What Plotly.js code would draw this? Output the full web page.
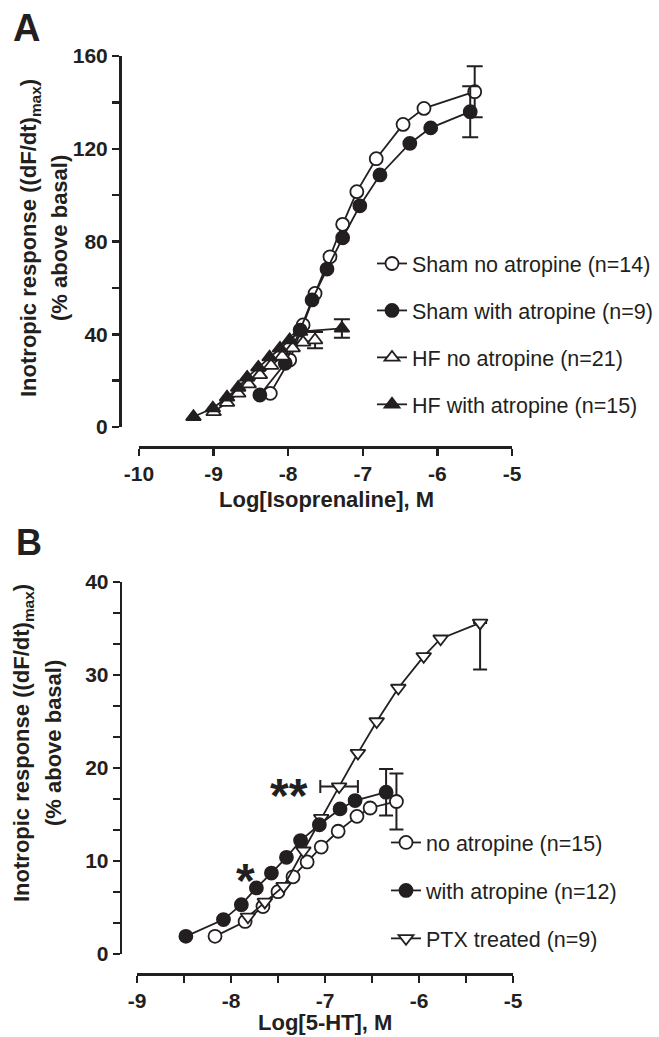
<!DOCTYPE html>
<html>
<head>
<meta charset="utf-8">
<script src="https://cdn.plot.ly/plotly-3.0.1.min.js"></script>
<style>html,body{margin:0;padding:0;background:#fff;}#chart{width:659px;height:1037px;}</style>
</head>
<body>
<div id="chart"></div>
<script>
// ---------- Panel A data (Log[Isoprenaline], M vs % above basal) ----------
const shamNoX   = [-8.24, -7.98, -7.80, -7.64, -7.44, -7.27, -7.08, -6.82, -6.46, -6.18, -5.50];
const shamNoY   = [14.5, 28.9, 44.0, 57.6, 73.4, 87.4, 101.5, 115.7, 130.5, 137.4, 144.6];
const shamNoErr = [NaN, NaN, NaN, NaN, NaN, NaN, NaN, NaN, NaN, NaN, 11];

const shamAtX   = [-8.38, -8.04, -7.84, -7.68, -7.48, -7.27, -7.04, -6.77, -6.37, -6.09, -5.56];
const shamAtY   = [13.8, 27.5, 41.8, 54.8, 68.1, 81.6, 95.4, 108.7, 122.3, 129.0, 136.0];
const shamAtErr = [NaN, NaN, NaN, NaN, NaN, NaN, NaN, NaN, NaN, NaN, 11];

const hfNoX   = [-9.00, -8.82, -8.67, -8.53, -8.38, -8.23, -8.08, -7.94, -7.80, -7.64];
const hfNoY   = [6.5, 10.5, 14.5, 18.5, 22.5, 26.5, 30.5, 34.0, 36.5, 37.5];
const hfNoErr = [NaN, NaN, NaN, NaN, NaN, NaN, NaN, NaN, NaN, 3.5];

const hfAtX   = [-9.27, -9.01, -8.82, -8.67, -8.55, -8.40, -8.25, -8.11, -7.98, -7.84, -7.28];
const hfAtY   = [4.4, 8.1, 12.8, 17.0, 21.4, 25.7, 30.1, 33.9, 37.5, 41.1, 42.5];
const hfAtErr = [NaN, NaN, NaN, NaN, NaN, NaN, NaN, NaN, NaN, NaN, 4];

const namesA = ['Sham no atropine (n=14)', 'Sham with atropine (n=9)', 'HF no atropine (n=21)', 'HF with atropine (n=15)'];
const xTicksA = [-10, -9, -8, -7, -6, -5];
const xTickTextA = ['-10', '-9', '-8', '-7', '-6', '-5'];
const yTicksA = [0, 40, 80, 120, 160];

// ---------- Panel B data (Log[5-HT], M vs % above basal) ----------
const noAtrX   = [-8.17, -7.85, -7.66, -7.50, -7.34, -7.19, -7.04, -6.86, -6.66, -6.52, -6.24];
const noAtrY   = [1.9, 3.5, 5.1, 6.7, 8.3, 9.9, 11.5, 13.2, 14.8, 15.7, 16.4];
const noAtrErr = [NaN, NaN, NaN, NaN, NaN, NaN, NaN, NaN, NaN, NaN, 3.0];

const withAtrX   = [-8.48, -8.08, -7.89, -7.73, -7.57, -7.41, -7.26, -7.06, -6.84, -6.68, -6.35];
const withAtrY   = [1.9, 3.7, 5.3, 7.1, 8.7, 10.4, 12.2, 13.9, 15.6, 16.5, 17.4];
const withAtrErr = [NaN, NaN, NaN, NaN, NaN, NaN, NaN, NaN, NaN, NaN, 2.5];

const ptxX       = [-7.82, -7.64, -7.44, -7.23, -7.04, -6.85, -6.65, -6.45, -6.22, -5.95, -5.77, -5.35];
const ptxY       = [4.0, 5.6, 7.3, 11.1, 14.6, 18.0, 21.6, 25.0, 28.6, 32.0, 33.9, 35.6];
const ptxErrUp   = [NaN, NaN, NaN, NaN, NaN, NaN, NaN, NaN, NaN, NaN, NaN, 0];
const ptxErrDown = [NaN, NaN, NaN, NaN, NaN, NaN, NaN, NaN, NaN, NaN, NaN, 5.0];
const ptxErrX    = [NaN, NaN, NaN, NaN, NaN, 0.2, NaN, NaN, NaN, NaN, NaN, NaN];

const namesB = ['no atropine (n=15)', 'with atropine (n=12)', 'PTX treated (n=9)'];
const xTicksB = [-9, -8, -7, -6, -5];
const xTickTextB = ['-9', '-8', '-7', '-6', '-5'];
const yTicksB = [0, 10, 20, 30, 40];

// ---------- styling ----------
const W = 659, H = 1037;
const INK = '#231f20';
const FONT = 'Liberation Sans, Arial, Helvetica, sans-serif';
const px = p => p / W;
const py = p => 1 - p / H;

function series(x, y, name, symbol, filled, xa, ya, leg, grp, rank, err, extra) {
  const t = {
    type: 'scatter', mode: 'lines+markers', x: x, y: y, name: name,
    xaxis: xa, yaxis: ya, legend: leg, legendgroup: grp, legendrank: rank,
    cliponaxis: false,
    line: {color: INK, width: 1.8},
    marker: {symbol: symbol, size: 13, color: filled ? INK : '#ffffff', line: {color: INK, width: 1.8}},
  };
  if (err) t.error_y = err;
  if (extra) Object.assign(t, extra);
  return t;
}
const eb = (arr, w) => ({type: 'data', array: arr, visible: true, color: INK, thickness: 2, width: w});

const traces = [
  series(shamNoX, shamNoY, namesA[0], 'circle', false, 'x', 'y', 'legend', 'a1', 1, eb(shamNoErr, 8)),
  series(shamAtX, shamAtY, namesA[1], 'circle', true, 'x', 'y', 'legend', 'a2', 2, eb(shamAtErr, 8)),
  series(hfNoX, hfNoY, namesA[2], 'triangle-up', false, 'x', 'y', 'legend', 'a3', 3, eb(hfNoErr, 8)),
  series(hfAtX, hfAtY, namesA[3], 'triangle-up', true, 'x', 'y', 'legend', 'a4', 4, eb(hfAtErr, 8)),
  series(noAtrX, noAtrY, namesB[0], 'circle', false, 'x2', 'y2', 'legend2', 'b1', 1, eb(noAtrErr, 7)),
  series(ptxX, ptxY, namesB[2], 'triangle-down', false, 'x2', 'y2', 'legend2', 'b3', 3,
    {type: 'data', symmetric: false, array: ptxErrUp, arrayminus: ptxErrDown, visible: true, color: INK, thickness: 2, width: 7},
    {error_x: {type: 'data', array: ptxErrX, visible: true, color: INK, thickness: 2, width: 6.5}}),
  series(withAtrX, withAtrY, namesB[1], 'circle', true, 'x2', 'y2', 'legend2', 'b2', 2, eb(withAtrErr, 7)),
];

const tickFont = {family: FONT, size: 21, color: INK, weight: 'bold'};
const axisBase = {
  showline: true, linecolor: INK, linewidth: 2.5, ticks: 'outside', ticklen: 7,
  tickwidth: 2.5, tickcolor: INK, showgrid: false, zeroline: false, tickfont: tickFont,
  anchor: 'free', fixedrange: true,
};

const legendBase = {
  xanchor: 'left', yanchor: 'top', bgcolor: 'rgba(0,0,0,0)', borderwidth: 0,
  font: {family: FONT, size: 21.5, color: INK}, traceorder: 'grouped', tracegroupgap: 16,
  itemclick: false, itemdoubleclick: false,
};

const titleFont = {family: FONT, size: 22, color: INK, weight: 'bold'};
const ann = (text, x, y, opts) => Object.assign({
  text: text, xref: 'paper', yref: 'paper', x: px(x), y: py(y), xanchor: 'center', yanchor: 'middle',
  showarrow: false, font: titleFont,
}, opts || {});

const layout = {
  width: W, height: H, margin: {l: 0, r: 0, t: 0, b: 0, autoexpand: false},
  paper_bgcolor: '#ffffff', plot_bgcolor: 'rgba(0,0,0,0)',
  font: {family: FONT, color: INK},
  xaxis: Object.assign({}, axisBase, {domain: [px(139), px(512)], range: [-10, -5],
    tickmode: 'array', tickvals: xTicksA, ticktext: xTickTextA, position: py(447)}),
  yaxis: Object.assign({}, axisBase, {domain: [py(427), py(56)], range: [0, 160],
    tickmode: 'array', tickvals: yTicksA, position: px(120),
    minor: {tickmode: 'linear', tick0: 0, dtick: 20, ticks: 'outside', ticklen: 7, tickwidth: 2.5, tickcolor: INK}}),
  xaxis2: Object.assign({}, axisBase, {domain: [px(137), px(513)], range: [-9, -5],
    tickmode: 'array', tickvals: xTicksB, ticktext: xTickTextB, position: py(974),
    minor: {tickmode: 'linear', tick0: -9, dtick: 0.5, ticks: 'outside', ticklen: 7, tickwidth: 2.5, tickcolor: INK}}),
  yaxis2: Object.assign({}, axisBase, {domain: [py(954), py(582)], range: [0, 40],
    tickmode: 'array', tickvals: yTicksB, position: px(120.7),
    minor: {tickmode: 'linear', tick0: 0, dtick: 10 / 3, ticks: 'outside', ticklen: 7, tickwidth: 2.5, tickcolor: INK}}),
  legend: Object.assign({}, legendBase, {x: px(372), y: py(243)}),
  legend2: Object.assign({}, legendBase, {x: px(386), y: py(822), tracegroupgap: 17}),
  showlegend: true,
  annotations: [
    ann('A', 26, 28, {font: {family: FONT, size: 38, color: INK, weight: 'bold'}}),
    ann('B', 29, 542, {font: {family: FONT, size: 36, color: INK, weight: 'bold'}}),
    ann('Log[Isoprenaline], M', 326, 499),
    ann('Log[5-HT], M', 325, 1022),
    ann('Inotropic response ((dF/dt)<sub>max</sub>)', 30, 238, {textangle: -90}),
    ann('(% above basal)', 59, 238, {textangle: -90}),
    ann('Inotropic response ((dF/dt)<sub>max</sub>)', 23, 743, {textangle: -90}),
    ann('(% above basal)', 53, 743, {textangle: -90}),
    ann('*', 246, 880, {font: {family: FONT, size: 48, color: INK, weight: 'bold'}}),
    ann('**', 289, 795, {font: {family: FONT, size: 48, color: INK, weight: 'bold'}}),
  ],
};

Plotly.newPlot('chart', traces, layout, {staticPlot: true, displayModeBar: false});
</script>
</body>
</html>
